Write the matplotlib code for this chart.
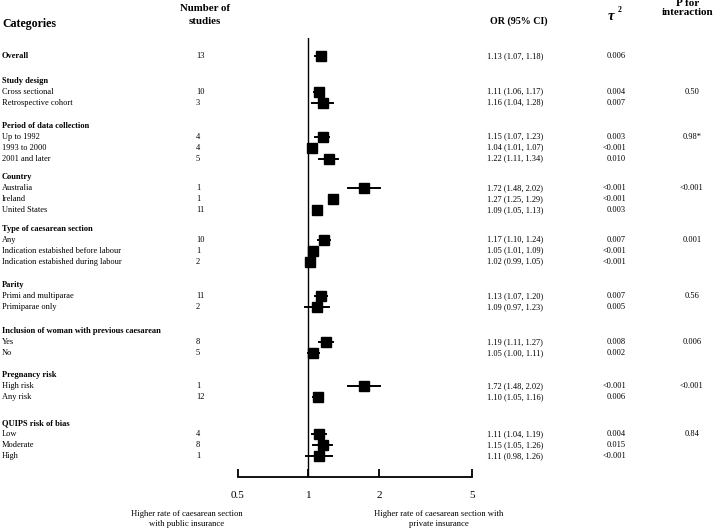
import matplotlib
matplotlib.use("Agg")
import matplotlib.pyplot as plt
import matplotlib.transforms as mtransforms

plt.rcParams['font.family'] = ['Liberation Serif', 'DejaVu Serif']

# overall estimate
overall_n = 13
overall_or = 1.13
overall_lo = 1.07
overall_hi = 1.18
overall_tau2 = "0.006"

groups = ["Study design", "Period of data collection", "Country",
          "Type of caesarean section", "Parity",
          "Inclusion of woman with previous caesarean", "Pregnancy risk",
          "QUIPS risk of bias"]
group_p = ["0.50", "0.98*", "<0.001", "0.001", "0.56", "0.006", "<0.001", "0.84"]

sub_labels = ["Cross sectional", "Retrospective cohort",
              "Up to 1992", "1993 to 2000", "2001 and later",
              "Australia", "Ireland", "United States",
              "Any", "Indication estabished before labour", "Indication estabished during labour",
              "Primi and multiparae", "Primiparae only",
              "Yes", "No",
              "High risk", "Any risk",
              "Low", "Moderate", "High"]
sub_group = [0, 0, 1, 1, 1, 2, 2, 2, 3, 3, 3, 4, 4, 5, 5, 6, 6, 7, 7, 7]
n_studies = [10, 3, 4, 4, 5, 1, 1, 11, 10, 1, 2, 11, 2, 8, 5, 1, 12, 4, 8, 1]
or_est = [1.11, 1.16, 1.15, 1.04, 1.22, 1.72, 1.27, 1.09, 1.17, 1.05, 1.02,
          1.13, 1.09, 1.19, 1.05, 1.72, 1.10, 1.11, 1.15, 1.11]
ci_lo = [1.06, 1.04, 1.07, 1.01, 1.11, 1.48, 1.25, 1.05, 1.10, 1.01, 0.99,
         1.07, 0.97, 1.11, 1.00, 1.48, 1.05, 1.04, 1.05, 0.98]
ci_hi = [1.17, 1.28, 1.23, 1.07, 1.34, 2.02, 1.29, 1.13, 1.24, 1.09, 1.05,
         1.20, 1.23, 1.27, 1.11, 2.02, 1.16, 1.19, 1.26, 1.26]
tau2 = ["0.004", "0.007", "0.003", "<0.001", "0.010", "<0.001", "<0.001", "0.003",
        "0.007", "<0.001", "<0.001", "0.007", "0.005", "0.008", "0.002",
        "<0.001", "0.006", "0.004", "0.015", "<0.001"]

# spacing (in rows) before each group header
group_gap = [2.27, 2.09, 1.66, 1.7, 2.12, 2.2, 2.0, 2.34]

W, H = 714, 529
fig = plt.figure(figsize=(W / 100, H / 100), dpi=100)

ax_left, ax_right = 237.7, 472.3
ax_top, ax_bot = 38, 476.7
ax = fig.add_axes([ax_left / W, 1 - ax_bot / H, (ax_right - ax_left) / W, (ax_bot - ax_top) / H])
row_px = 11.0
row0 = 55.7
ax.set_ylim((ax_bot - row0) / row_px, (ax_top - row0) / row_px)
ax.set_xscale('log')
ax.set_xlim(0.5, 5)
for s in ['top', 'right', 'left']:
    ax.spines[s].set_visible(False)
ax.spines['bottom'].set_linewidth(1.3)
ax.set_xticks([0.5, 1, 2, 5])
ax.set_xticklabels(["0.5", "1", "2", "5"], fontsize=8)
ax.xaxis.set_minor_locator(matplotlib.ticker.NullLocator())
ax.tick_params(axis='x', direction='in', length=6, width=1.3, pad=10)
ax.set_yticks([])
ax.axvline(1, color='black', lw=1.0)

tr = mtransforms.blended_transform_factory(fig.transFigure, ax.transData)
fs = 6.0
x_lab, x_n, x_or, x_tau, x_p = 2 / W, 196 / W, 487 / W, 626 / W, 692 / W


def draw_row(y, label, n, est, lo, hi, tau, bold=False):
    ax.plot([lo, hi], [y, y], color='black', lw=1.4)
    ax.plot([est], [y], marker='s', color='black', markersize=6.6, linestyle='none')
    fig.text(x_lab, y, label, transform=tr, fontsize=fs, va='center',
             fontweight='bold' if bold else 'normal')
    fig.text(x_n, y, str(n), transform=tr, fontsize=fs, va='center')
    fig.text(x_or, y, "%.2f (%.2f, %.2f)" % (est, lo, hi), transform=tr, fontsize=fs, va='center')
    fig.text(x_tau, y, tau, transform=tr, fontsize=fs, va='center', ha='right')


y = 0.0
draw_row(y, "Overall", overall_n, overall_or, overall_lo, overall_hi, overall_tau2, bold=True)
for g, name in enumerate(groups):
    y += group_gap[g]
    fig.text(x_lab, y, name, transform=tr, fontsize=fs, va='center', fontweight='bold')
    first = True
    for i in range(len(sub_labels)):
        if sub_group[i] != g:
            continue
        y += 1
        draw_row(y, sub_labels[i], n_studies[i], or_est[i], ci_lo[i], ci_hi[i], tau2[i])
        if first:
            fig.text(x_p, y, group_p[g], transform=tr, fontsize=fs, va='center', ha='center')
            first = False

# column headers
fig.text(2 / W, 1 - 23.5 / H, "Categories", fontsize=8.6, fontweight='bold', va='center')
fig.text(205 / W, 1 - 8.5 / H, "Number of", fontsize=7.8, fontweight='bold', va='center', ha='center')
fig.text(205 / W, 1 - 21.5 / H, "studies", fontsize=7.8, fontweight='bold', va='center', ha='center')
fig.text(519 / W, 1 - 21.5 / H, "OR (95% CI)", fontsize=7.2, fontweight='bold', va='center', ha='center')
fig.text(611 / W, 1 - 17 / H, "τ", fontsize=10.5, fontweight='bold', fontstyle='italic',
         va='center', ha='center')
fig.text(620 / W, 1 - 10 / H, "2", fontsize=5.5, fontweight='bold', va='center', ha='center')
fig.text(688 / W, 1 - 3 / H, "P for", fontsize=8, fontweight='bold', va='center', ha='center')
fig.text(688 / W, 1 - 12.5 / H, "interaction", fontsize=8, fontweight='bold', va='center', ha='center')

# captions under the axis
fig.text(187 / W, 1 - 519 / H, "Higher rate of caesarean section\nwith public insurance",
         fontsize=6.2, va='center', ha='center', linespacing=1.2)
fig.text(439 / W, 1 - 519 / H, "Higher rate of caesarean section with\nprivate insurance",
         fontsize=6.2, va='center', ha='center', linespacing=1.2)

fig.savefig("out.png", dpi=100)
